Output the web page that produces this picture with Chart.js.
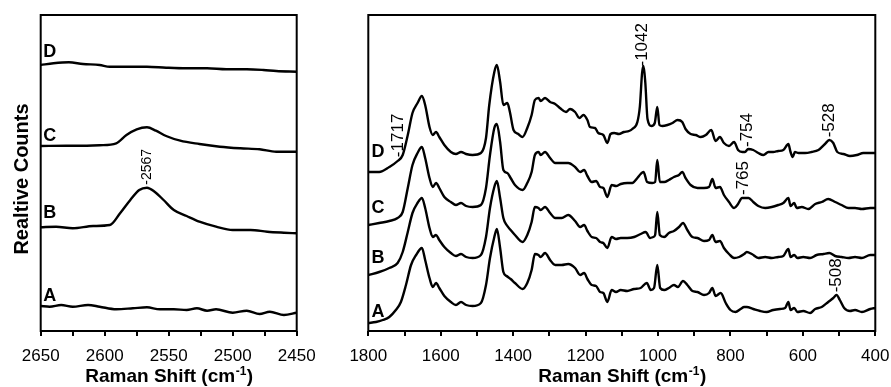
<!DOCTYPE html>
<html lang="en">
<head>
<meta charset="UTF-8">
<title>Raman spectra A-D</title>
<script src="https://cdn.jsdelivr.net/npm/chart.js"></script>
<style>
  *{margin:0;padding:0;box-sizing:border-box}
  body{width:891px;height:387px;background:#fff;position:relative;overflow:hidden}
  canvas{position:absolute;top:0}
  #left{left:0}
  #right{left:330px}
</style>
</head>
<body>
<canvas id="left" width="328" height="387"></canvas>
<canvas id="right" width="590" height="387"></canvas>
<script>
// ── left panel (2650–2450 cm-1), relative counts, arbitrary units ──
const leftShiftA = [2650,2643,2634,2625,2613,2604,2591,2578,2567,2557,2546,2536,2528,2520,2513,2500,2489,2479,2471,2460,2450];
const leftCountsA = [25,24.3,26,24.3,26,24.3,21.7,22.7,23.7,21.7,21.7,21,22.7,20.3,21.7,18.3,20.3,17,19.3,16,18.3];
const leftShiftB = [2650,2638,2625,2609,2596,2588,2580,2573,2567,2561,2554,2546,2536,2526,2513,2500,2486,2473,2460,2450];
const leftCountsB = [103.7,104.3,102.7,105,106,117.7,131,141,143.3,139.3,131,121,115,109.3,104.3,101,101,99.3,98.3,97.7];
const leftShiftC = [2650,2630,2614,2604,2591,2583,2575,2567,2560,2552,2541,2526,2510,2494,2479,2466,2450];
const leftCountsC = [185,185.3,185.3,185.7,187.7,196,201.7,203.7,200.3,195,190.3,187,184.3,182.7,181.7,179.3,179.3];
const leftShiftD = [2650,2640,2628,2617,2604,2596,2583,2567,2552,2536,2520,2505,2489,2476,2466,2450];
const leftCountsD = [266,267.7,268.7,267,266,264.3,264.3,264.3,263.3,262.7,262.7,261.7,261.7,261,260,259.3];

// ── right panel (1800–400 cm-1) ──
const rightShiftA = [1800,1779,1760,1742,1724,1710,1696,1682,1668,1652,1643,1631,1622,1613,1604,1590,1572,1558,1544,1530,1512,1489,1475,1464,1452,1445,1436,1427,1418,1407,1395,1374,1361,1349,1340,1330,1324,1312,1298,1284,1266,1248,1229,1215,1204,1195,1183,1171,1160,1151,1140,1128,1116,1103,1085,1066,1048,1031,1020,1011,1002,994,983,970,956,945,931,919,905,891,873,859,850,841,827,813,800,786,772,762,755,737,718,700,682,663,649,640,634,624,615,599,580,566,548,530,516,507,498,486,470,456,437,414,400];
const rightCountsA = [8,9,11,14,21,29,46,66,76,83,71,53,44,48,43,35,29,26,29,26,25,28,46,73,94,102,83,59,55,52,48,42,48,61,77,76,74,78,71,66,66,67,63,56,58,52,46,45,39,38,29,41,39,41,40,42,43,48,41,43,66,43,41,43,46,44,50,46,40,39,36,38,43,35,38,28,21,19,22,24,24,22,20,19,21,22,23,29,21,23,19,20,18,22,24,29,33,36,31,23,20,21,19,22,23];
const rightShiftB = [1800,1770,1742,1719,1705,1691,1678,1664,1652,1643,1631,1622,1613,1604,1590,1572,1558,1544,1530,1512,1489,1475,1464,1452,1445,1436,1427,1418,1407,1395,1374,1361,1349,1340,1330,1324,1312,1298,1284,1266,1248,1229,1215,1204,1195,1183,1171,1160,1151,1140,1128,1116,1103,1085,1066,1048,1034,1022,1013,1008,1002,995,983,970,956,942,931,919,905,891,873,859,850,841,829,818,804,790,776,762,755,741,723,704,686,668,654,640,634,624,615,599,580,562,543,527,511,493,474,456,437,414,400];
const rightCountsB = [56,59,63,68,79,99,118,128,133,123,103,94,96,91,84,78,75,77,74,73,76,94,123,144,150,133,113,106,101,96,89,96,109,124,123,121,124,118,113,113,116,110,104,106,100,94,93,89,88,83,94,92,93,93,94,97,99,93,94,96,119,96,94,98,100,104,108,101,94,93,90,91,96,89,90,83,77,73,74,77,79,77,73,74,73,74,75,82,74,76,73,74,73,76,77,78,75,74,73,74,73,76,76];
const rightShiftC = [1800,1770,1742,1719,1705,1691,1678,1664,1652,1643,1631,1622,1613,1604,1590,1572,1558,1544,1530,1512,1489,1475,1464,1452,1445,1436,1427,1416,1407,1395,1374,1361,1349,1340,1330,1324,1312,1298,1284,1266,1248,1229,1215,1204,1195,1183,1171,1160,1151,1140,1128,1116,1103,1085,1071,1057,1048,1040,1030,1016,1008,1002,995,983,970,956,942,933,924,910,891,873,859,850,841,829,818,804,790,779,768,760,750,737,723,704,686,668,654,640,634,624,617,603,585,566,548,530,511,493,474,456,437,414,400];
const rightCountsC = [106,108,110,113,119,143,166,178,184,173,153,144,148,143,134,129,126,128,125,124,126,143,176,203,207,189,161,158,153,146,141,148,159,176,179,176,179,173,168,168,168,164,159,161,155,149,150,144,143,134,146,145,147,148,148,153,157,159,149,148,149,171,149,149,151,154,156,159,153,146,143,143,144,152,143,144,136,129,123,127,133,133,133,129,125,123,124,126,128,133,125,128,123,124,122,127,129,132,129,126,123,123,122,123,123];
const rightShiftD = [1800,1770,1742,1719,1705,1691,1678,1664,1652,1643,1631,1622,1613,1604,1590,1572,1558,1544,1530,1512,1489,1475,1466,1452,1445,1436,1427,1416,1409,1399,1386,1374,1361,1349,1340,1330,1324,1312,1298,1284,1271,1254,1243,1229,1217,1206,1195,1188,1174,1165,1151,1140,1131,1121,1108,1094,1080,1071,1057,1050,1044,1040,1035,1029,1018,1009,1002,996,988,974,960,946,933,924,910,896,882,868,853,841,829,818,804,790,779,767,760,751,737,723,709,695,682,668,654,640,634,628,622,612,594,576,557,539,527,516,505,488,470,451,433,414,400];
const rightCountsD = [159,159,164,170,176,196,218,228,235,226,204,196,199,194,186,179,177,179,177,176,178,193,226,259,266,249,226,228,219,201,197,194,203,216,231,233,230,233,229,227,223,219,222,219,213,216,211,204,203,198,196,188,197,198,197,199,200,202,209,225,258,265,248,212,205,208,224,206,205,206,208,211,209,202,197,196,194,196,201,190,194,188,185,189,181,179,179,182,181,178,176,179,179,180,181,187,179,174,179,178,178,179,181,187,191,188,179,177,175,176,178,178,178];

// curve letters and where they sit (data units)
const curveLetters = ['A','B','C','D'];
const leftLetterShift = 2648;
const leftLetterCounts = [35,118,195,279];
const rightLetterShift = 1791;
const rightLetterCounts = [19,73,123,179];

// peak annotations: label, position, series index (0=A … 3=D)
const leftPeakText = ['2567'];
const leftPeakShift = [2567];
const leftPeakSeries = [1];
const rightPeakText = ['1717','1042','754','528','765','508'];
const rightPeakShift = [1717,1042,754,528,765,508];
const rightPeakSeries = [3,3,3,3,2,0];

const FONT = "'Liberation Sans', Arial, sans-serif";
const zip = (xs, ys) => xs.map((x, i) => ({x, y: ys[i]}));

function valueAt(pts, x){
  for (let i = 0; i < pts.length - 1; i++){
    const a = pts[i], b = pts[i+1];
    if ((x - a.x) * (x - b.x) <= 0){
      const t = (x - a.x) / (b.x - a.x);
      return a.y + t * (b.y - a.y);
    }
  }
  return pts[pts.length-1].y;
}

// frame, letters, peak labels, axis titles
const decor = {
  id: 'decor',
  afterDatasetsDraw(chart, args, o){
    const {ctx, chartArea: a, scales: {x, y}} = chart;
    ctx.save();
    ctx.lineWidth = 2; ctx.strokeStyle = '#000'; ctx.fillStyle = '#000';
    ctx.strokeRect(a.left, a.top, a.right - a.left, a.bottom - a.top);

    ctx.font = 'bold 18px ' + FONT;
    ctx.textAlign = 'left'; ctx.textBaseline = 'middle';
    curveLetters.forEach((t, i) => ctx.fillText(t, x.getPixelForValue(o.letterX), y.getPixelForValue(o.letterY[i])));

    ctx.font = o.peakFont + 'px ' + FONT;
    o.peakText.forEach((t, i) => {
      const v = valueAt(chart.data.datasets[o.peakSeries[i]].data, o.peakX[i]);
      ctx.save();
      ctx.translate(x.getPixelForValue(o.peakX[i]), y.getPixelForValue(v) - 3);
      ctx.rotate(-Math.PI / 2);
      ctx.fillText('-' + t, 0, 0);
      ctx.restore();
    });

    if (o.yTitle){
      ctx.save();
      ctx.font = 'bold 20px ' + FONT;
      ctx.textAlign = 'center';
      ctx.translate(22, (a.top + a.bottom) / 2 + 6);
      ctx.rotate(-Math.PI / 2);
      ctx.fillText(o.yTitle, 0, 0);
      ctx.restore();
    }

    const main = 'Raman Shift (cm', sup = '-1', tail = ')';
    ctx.textAlign = 'left'; ctx.textBaseline = 'alphabetic';
    ctx.font = 'bold 19px ' + FONT;
    const w1 = ctx.measureText(main).width, w3 = ctx.measureText(tail).width;
    ctx.font = 'bold 12px ' + FONT;
    const w2 = ctx.measureText(sup).width;
    const sx = (a.left + a.right) / 2 - (w1 + w2 + w3) / 2;
    const base = chart.height - 5;
    ctx.font = 'bold 19px ' + FONT;
    ctx.fillText(main, sx, base);
    ctx.font = 'bold 12px ' + FONT;
    ctx.fillText(sup, sx + w1 + 0.5, base - 7);
    ctx.font = 'bold 19px ' + FONT;
    ctx.fillText(tail, sx + w1 + w2 + 1, base);
    ctx.restore();
  }
};

function spectrumChart(id, series, xr, step, labelEvery, pad, yWidth, deco){
  return new Chart(document.getElementById(id), {
    type: 'line',
    data: {
      datasets: series.map(s => ({
        data: s, borderColor: '#000', borderWidth: 2.4, pointRadius: 0,
        cubicInterpolationMode: 'monotone', borderJoinStyle: 'round', fill: false
      }))
    },
    options: {
      responsive: false, animation: false, devicePixelRatio: 1,
      layout: {padding: pad},
      plugins: {legend: {display: false}, tooltip: {enabled: false}, decor: deco},
      scales: {
        x: {
          type: 'linear', reverse: true, min: xr[0], max: xr[1],
          afterFit: s => { s.height = 56; },
          border: {display: false},
          grid: {drawOnChartArea: false, drawTicks: true, tickLength: 5, color: '#000', lineWidth: 2},
          ticks: {
            stepSize: step, autoSkip: false, maxRotation: 0, padding: 10,
            color: '#000', font: {family: FONT, size: 17},
            callback: v => (v % labelEvery === 0 ? String(v) : '')
          }
        },
        y: {
          min: 0, max: 316, display: yWidth > 0,
          afterFit: s => { s.width = yWidth; },
          border: {display: false}, grid: {display: false}, ticks: {display: false}
        }
      }
    },
    plugins: [decor]
  });
}

// left canvas 328 wide → plot right edge at 296.7
spectrumChart('left',
  [zip(leftShiftA, leftCountsA), zip(leftShiftB, leftCountsB), zip(leftShiftC, leftCountsC), zip(leftShiftD, leftCountsD)],
  [2450, 2650], 25, 50,
  {top: 15, right: 31.3, bottom: 0, left: 0}, 40.7,
  {letterX: leftLetterShift, letterY: leftLetterCounts, peakText: leftPeakText, peakX: leftPeakShift,
   peakSeries: leftPeakSeries, peakFont: 14, yTitle: 'Realtive Counts'}
);

// right canvas starts at 330, 590 wide → plot spans 368.3–875.3 on the page
spectrumChart('right',
  [zip(rightShiftA, rightCountsA), zip(rightShiftB, rightCountsB), zip(rightShiftC, rightCountsC), zip(rightShiftD, rightCountsD)],
  [400, 1800], 100, 200,
  {top: 15, right: 44.7, bottom: 0, left: 38.3}, 0,
  {letterX: rightLetterShift, letterY: rightLetterCounts, peakText: rightPeakText, peakX: rightPeakShift,
   peakSeries: rightPeakSeries, peakFont: 17}
);
</script>
</body>
</html>
